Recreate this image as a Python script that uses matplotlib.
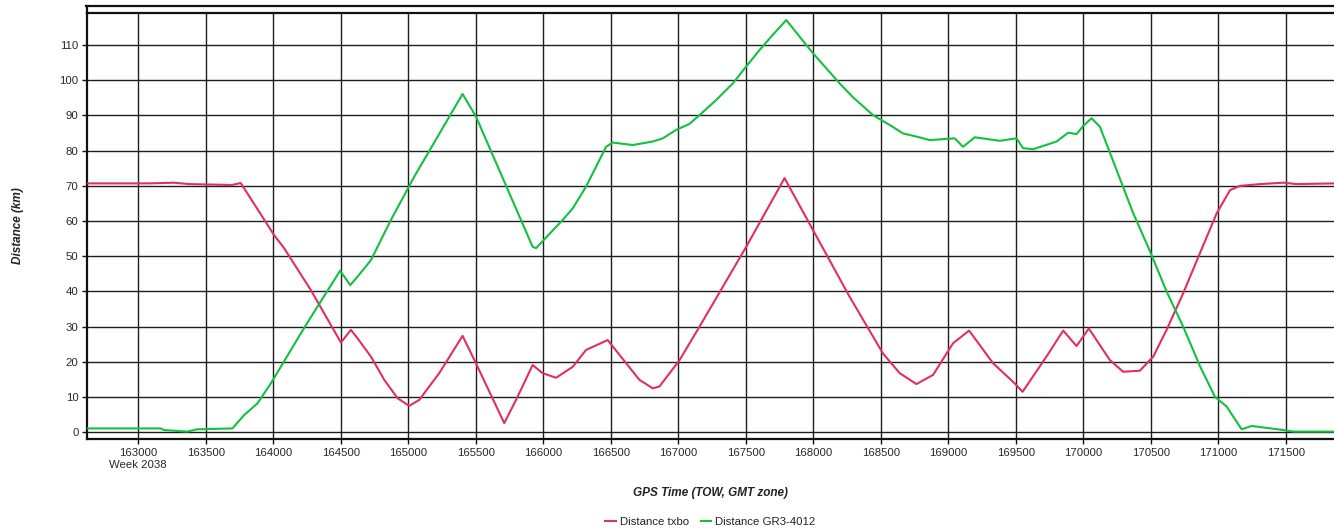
import numpy as np
import matplotlib
matplotlib.use('Agg')
import matplotlib.pyplot as plt
from matplotlib.lines import Line2D

plt.rcParams['font.family'] = ['Liberation Sans', 'DejaVu Sans']

# GPS time of week (s) and distances (km)
txbo_t = [162620, 163079, 163265, 163376, 163635, 163687, 163759, 164006, 164080,
          164278, 164501, 164575, 164624, 164723, 164822, 164920, 165007, 165081,
          165229, 165402, 165501, 165711, 165798, 165921, 165995, 166095, 166218,
          166317, 166477, 166614, 166712, 166811, 166860, 167009, 167157, 167503,
          167787, 167997, 168269, 168516, 168640, 168764, 168887, 169035, 169154,
          169332, 169492, 169550, 169727, 169851, 169950, 170041, 170197, 170295,
          170419, 170518, 170617, 170740, 170864, 170988, 171087, 171161, 171309,
          171482, 171581, 171857]
txbo_d = [70.7, 70.7, 70.9, 70.5, 70.3, 70.2, 70.8, 56.0, 52.3,
          40.4, 25.5, 29.1, 26.7, 21.5, 14.9, 9.7, 7.5, 9.2,
          16.8, 27.4, 19.6, 2.6, 9.2, 19.1, 16.8, 15.5, 18.6,
          23.4, 26.2, 19.6, 14.9, 12.5, 13.0, 20.5, 30.0, 52.7,
          72.2, 57.5, 38.5, 22.4, 16.8, 13.7, 16.3, 25.3, 28.9,
          19.6, 13.9, 11.5, 21.5, 28.9, 24.5, 29.5, 20.5, 17.2,
          17.5, 21.5, 29.1, 39.5, 50.9, 62.2, 68.8, 70.0, 70.5,
          70.9, 70.5, 70.7]

gr3_t = [162620, 163166, 163190, 163363, 163437, 163697, 163784, 163882, 163982,
         164204, 164327, 164495, 164570, 164624, 164723, 164871, 165044, 165402,
         165501, 165921, 165946, 166143, 166218, 166317, 166465, 166514, 166663,
         166811, 166885, 166984, 167083, 167157, 167281, 167404, 167503, 167602,
         167700, 167800, 167898, 167997, 168096, 168195, 168293, 168442, 168566,
         168664, 168764, 168862, 169048, 169109, 169196, 169381, 169505, 169554,
         169628, 169802, 169888, 169950, 169999, 170061, 170123, 170370, 170493,
         170617, 170740, 170864, 170975, 171062, 171173, 171247, 171482, 171556,
         171857]
gr3_d = [1.1, 1.1, 0.65, 0.2, 0.85, 1.1, 4.9, 8.2, 13.9,
         28.1, 35.7, 45.9, 41.8, 44.2, 48.9, 60.3, 72.6, 96.1,
         89.7, 52.7, 52.3, 60.3, 63.6, 69.8, 81.1, 82.3, 81.6,
         82.6, 83.5, 85.9, 87.6, 90.1, 94.4, 99.1, 103.9, 108.6,
         112.9, 117.1, 112.4, 107.7, 103.4, 99.1, 95.2, 90.1, 87.3,
         84.9, 84.0, 83.0, 83.5, 81.1, 83.8, 82.8, 83.5, 80.7,
         80.4, 82.6, 85.1, 84.7, 87.0, 89.2, 86.8, 62.2, 51.5,
         40.0, 30.0, 18.8, 10.1, 7.3, 0.85, 1.8, 0.65, 0.2,
         0.2]

xticks = np.arange(163000, 171501, 500)
xlabels = [str(v) for v in xticks]
xlabels[0] = '163000\nWeek 2038'
yticks = np.arange(0, 111, 10)

W, H = 1334, 529
fig = plt.figure(figsize=(W / 100, H / 100), dpi=100)
ax = fig.add_axes([87 / W, 90 / H, (W - 87) / W, (439 - 13) / H])

red = '#e0305f'
green = '#14c040'
ax.plot(txbo_t, txbo_d, color=red, lw=1.5, label='Distance txbo', zorder=3)
ax.plot(gr3_t, gr3_d, color=green, lw=1.5, label='Distance GR3-4012', zorder=3)

ax.set_xlim(162620, 171857)
ax.set_ylim(-1.9, 119.1)
ax.set_xticks(xticks)
ax.set_xticklabels(xlabels, linespacing=1.15)
ax.set_yticks(yticks)
ax.grid(True, color='#1e1e1e', lw=1.0, zorder=1)
ax.set_axisbelow(True)

ax.tick_params(axis='both', labelsize=8.2, labelcolor='#262630', color='#111111',
               length=3.6, width=1.0)
ax.tick_params(axis='y', pad=2.6)
ax.tick_params(axis='x', pad=3.2)

for side in ['left', 'bottom', 'top']:
    ax.spines[side].set_linewidth(1.6)
    ax.spines[side].set_color('#111111')
ax.spines['right'].set_visible(False)

# outer frame line above the plot area
fig.add_artist(Line2D([86 / W, 1.0], [1 - 6 / H, 1 - 6 / H], color='#111111', lw=1.6))
fig.add_artist(Line2D([87 / W, 87 / W], [1 - 6 / H, 1 - 13 / H], color='#111111', lw=1.6))

ax.set_xlabel('GPS Time (TOW, GMT zone)', fontsize=8.5, fontweight='bold',
              fontstyle='italic', color='#222222')
ax.xaxis.set_label_coords(0.5, -0.113)
ax.set_ylabel('Distance (km)', fontsize=8.5, fontweight='bold',
              fontstyle='italic', color='#222222')
ax.yaxis.set_label_coords(-0.0505, 0.5)

leg = ax.legend(loc='center', bbox_to_anchor=(0.5, -0.195), ncol=2, frameon=False,
                fontsize=8.2, handlelength=0.9, handletextpad=0.4, columnspacing=1.0)
for t in leg.get_texts():
    t.set_color('#222222')

fig.savefig('out.png', dpi=100)
